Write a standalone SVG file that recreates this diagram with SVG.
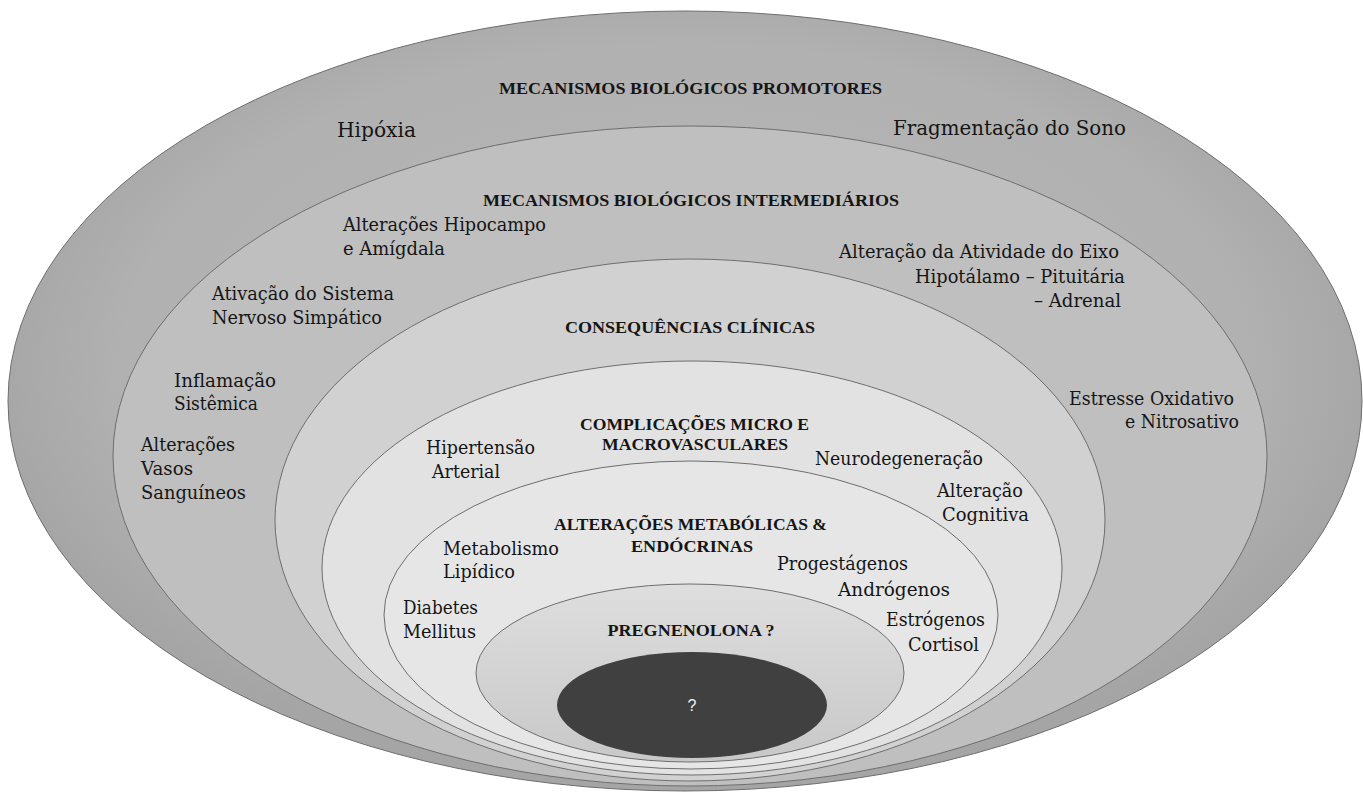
<svg xmlns="http://www.w3.org/2000/svg" width="1363" height="793" viewBox="0 0 1363 793">
<style>
.ring{stroke:#6e6e6e;stroke-width:1}
.lb{font-family:'DejaVu Serif','Liberation Serif',serif;font-size:19px;fill:#151515}
.lbig{font-family:'DejaVu Serif','Liberation Serif',serif;font-size:21px;fill:#151515}
.hd{font-family:'Liberation Serif','Times New Roman',serif;font-size:16.5px;font-weight:bold;fill:#151515;text-anchor:middle}
.qm{font-family:'Liberation Sans',Arial,sans-serif;font-size:16px;fill:#f2f2f2;text-anchor:middle}
</style>
<defs>
<radialGradient id="gOuter" cx="50%" cy="46%" r="52%">
<stop offset="0" stop-color="#b8b8b8"/>
<stop offset="0.8" stop-color="#b1b1b1"/>
<stop offset="1" stop-color="#a5a5a5"/>
</radialGradient>
<linearGradient id="gPreg" x1="0" y1="0" x2="0" y2="1">
<stop offset="0" stop-color="#dedede"/>
<stop offset="1" stop-color="#c8c8c8"/>
</linearGradient>
</defs>
<rect width="1363" height="793" fill="#ffffff"/>

<g id="promotores">
<ellipse class="ring" cx="685" cy="401" rx="677" ry="390" fill="url(#gOuter)"/>
<text class="hd" x="690.5" y="94" textLength="383" lengthAdjust="spacingAndGlyphs">MECANISMOS BIOLÓGICOS PROMOTORES</text>
<text class="lbig" x="337" y="137" textLength="79" lengthAdjust="spacingAndGlyphs">Hipóxia</text>
<text class="lbig" x="893" y="135" textLength="233" lengthAdjust="spacingAndGlyphs">Fragmentação  do Sono</text>
</g>

<g id="intermediarios">
<ellipse class="ring" cx="690" cy="456" rx="577" ry="330" fill="#bfbfbf"/>
<text class="hd" x="691" y="206" textLength="416" lengthAdjust="spacingAndGlyphs">MECANISMOS BIOLÓGICOS INTERMEDIÁRIOS</text>
<text class="lb" x="343" y="231" textLength="203" lengthAdjust="spacingAndGlyphs">Alterações Hipocampo</text>
<text class="lb" x="343" y="255" textLength="102" lengthAdjust="spacingAndGlyphs">e Amígdala</text>
<text class="lb" x="839" y="258" textLength="280" lengthAdjust="spacingAndGlyphs">Alteração da Atividade do Eixo</text>
<text class="lb" x="915" y="283" textLength="210" lengthAdjust="spacingAndGlyphs">Hipotálamo – Pituitária</text>
<text class="lb" x="1034" y="307" textLength="87" lengthAdjust="spacingAndGlyphs">– Adrenal</text>
<text class="lb" x="212" y="300" textLength="182" lengthAdjust="spacingAndGlyphs">Ativação do Sistema</text>
<text class="lb" x="212" y="324" textLength="170" lengthAdjust="spacingAndGlyphs">Nervoso Simpático</text>
<text class="lb" x="174" y="387" textLength="102" lengthAdjust="spacingAndGlyphs">Inflamação</text>
<text class="lb" x="174" y="410" textLength="84" lengthAdjust="spacingAndGlyphs">Sistêmica</text>
<text class="lb" x="141" y="451" textLength="94" lengthAdjust="spacingAndGlyphs">Alterações</text>
<text class="lb" x="141" y="475" textLength="52" lengthAdjust="spacingAndGlyphs">Vasos</text>
<text class="lb" x="141" y="499" textLength="105" lengthAdjust="spacingAndGlyphs">Sanguíneos</text>
<text class="lb" x="1069" y="405" textLength="165" lengthAdjust="spacingAndGlyphs">Estresse Oxidativo</text>
<text class="lb" x="1125" y="428" textLength="114" lengthAdjust="spacingAndGlyphs">e Nitrosativo</text>
</g>

<g id="consequencias">
<ellipse class="ring" cx="690" cy="520" rx="415" ry="261" fill="#d1d1d1"/>
<text class="hd" x="690" y="333" textLength="250" lengthAdjust="spacingAndGlyphs">CONSEQUÊNCIAS CLÍNICAS</text>
</g>

<g id="complicacoes">
<ellipse class="ring" cx="692" cy="568" rx="370" ry="207" fill="#e2e2e2"/>
<text class="hd" x="694.5" y="430" textLength="229" lengthAdjust="spacingAndGlyphs">COMPLICAÇÕES MICRO E</text>
<text class="hd" x="695" y="450" textLength="186" lengthAdjust="spacingAndGlyphs">MACROVASCULARES</text>
<text class="lb" x="426" y="454" textLength="109" lengthAdjust="spacingAndGlyphs">Hipertensão</text>
<text class="lb" x="432" y="478" textLength="68" lengthAdjust="spacingAndGlyphs">Arterial</text>
<text class="lb" x="815" y="465" textLength="168" lengthAdjust="spacingAndGlyphs">Neurodegeneração</text>
<text class="lb" x="937" y="497" textLength="86" lengthAdjust="spacingAndGlyphs">Alteração</text>
<text class="lb" x="942" y="521" textLength="87" lengthAdjust="spacingAndGlyphs">Cognitiva</text>
</g>

<g id="metabolicas">
<ellipse class="ring" cx="691" cy="615" rx="307" ry="154" fill="#e6e6e6"/>
<text class="hd" x="690.5" y="530" textLength="273" lengthAdjust="spacingAndGlyphs">ALTERAÇÕES METABÓLICAS &amp;</text>
<text class="hd" x="692" y="552" textLength="122" lengthAdjust="spacingAndGlyphs">ENDÓCRINAS</text>
<text class="lb" x="443" y="555" textLength="116" lengthAdjust="spacingAndGlyphs">Metabolismo</text>
<text class="lb" x="443" y="578" textLength="72" lengthAdjust="spacingAndGlyphs">Lipídico</text>
<text class="lb" x="777" y="570" textLength="131" lengthAdjust="spacingAndGlyphs">Progestágenos</text>
<text class="lb" x="838" y="596" textLength="112" lengthAdjust="spacingAndGlyphs">Andrógenos</text>
<text class="lb" x="403" y="614" textLength="75" lengthAdjust="spacingAndGlyphs">Diabetes</text>
<text class="lb" x="403" y="638" textLength="73" lengthAdjust="spacingAndGlyphs">Mellitus</text>
<text class="lb" x="886" y="626" textLength="99" lengthAdjust="spacingAndGlyphs">Estrógenos</text>
<text class="lb" x="908" y="651" textLength="71" lengthAdjust="spacingAndGlyphs">Cortisol</text>
</g>

<g id="pregnenolona">
<ellipse class="ring" cx="690" cy="673" rx="214" ry="89" fill="url(#gPreg)"/>
<text class="hd" x="691" y="636" textLength="167" lengthAdjust="spacingAndGlyphs">PREGNENOLONA ?</text>
</g>

<g id="nucleo">
<ellipse cx="692" cy="705" rx="135" ry="53" fill="#404040"/>
<text class="qm" x="692" y="711">?</text>
</g>

<g id="connectors"/>
</svg>
